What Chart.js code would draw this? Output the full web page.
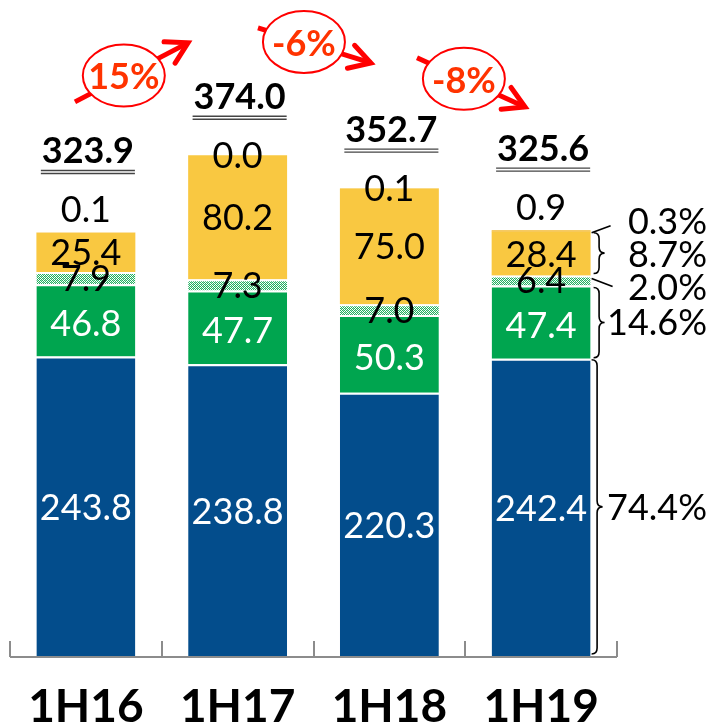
<!DOCTYPE html>
<html><head><meta charset="utf-8">
<script src="https://cdn.jsdelivr.net/npm/chart.js@4/dist/chart.umd.min.js"></script>
<style>html,body{margin:0;padding:0;background:#fff;overflow:hidden}</style>
</head><body>
<canvas id="c" width="713" height="728"></canvas>
<script>
// ---- data ----
const categories = ['1H16', '1H17', '1H18', '1H19'];
const blueVals   = [243.8, 238.8, 220.3, 242.4];
const greenVals  = [46.8, 47.7, 50.3, 47.4];
const checkVals  = [7.9, 7.3, 7.0, 6.4];
const yellowVals = [25.4, 80.2, 75.0, 28.4];
const otherVals  = [0.1, 0.0, 0.1, 0.9];
const totals     = [323.9, 374.0, 352.7, 325.6];
const growthLabels = ['15%', '-6%', '-8%'];
const shareLabels  = ['74.4%', '14.6%', '2.0%', '8.7%', '0.3%'];

// ---- style / layout ----
const FONT = 'Lato, "Open Sans", sans-serif';
const COL_BLUE = '#034D8C', COL_GREEN = '#00A54F', COL_YELLOW = '#F9C841';
const topLabelRaised = [true, false, false, true];
// annotation anchors: [category index offset, y value]
const growthAnchors = [
  {from: [-0.072, 408.6], to: [0.673, 446.8], center: [0.25, 425.6]},
  {from: [1.134, 456.5], to: [1.878, 433.8], center: [1.437, 447.4]},
  {from: [2.182, 437.1], to: [2.894, 405.3], center: [2.491, 423.5]}
];

function makePattern() {
  const pc = document.createElement('canvas');
  pc.width = 4; pc.height = 4;
  const p = pc.getContext('2d');
  p.fillStyle = '#ffffff'; p.fillRect(0, 0, 4, 4);
  p.fillStyle = '#22B060';
  [[0,0],[2,0],[1,1],[3,1],[0,2],[2,2],[1,3],[3,3]].forEach(([x,y]) => p.fillRect(x, y, 1, 1));
  p.fillStyle = 'rgba(0,165,79,0.35)';
  [[1,0],[3,2]].forEach(([x,y]) => p.fillRect(x, y, 1, 1));
  return document.getElementById('c').getContext('2d').createPattern(pc, 'repeat');
}

const sepBorder = {top: 2, bottom: 0, left: 0, right: 0};

function drawBrace(ctx, x, y1, y2, w) {
  const mid = (y1 + y2) / 2, r = Math.min(6, (y2 - y1) / 4), xm = x + w / 2;
  ctx.beginPath();
  ctx.moveTo(x, y1);
  ctx.quadraticCurveTo(xm, y1, xm, y1 + r);
  ctx.lineTo(xm, mid - r);
  ctx.quadraticCurveTo(xm, mid, x + w, mid);
  ctx.quadraticCurveTo(xm, mid, xm, mid + r);
  ctx.lineTo(xm, y2 - r);
  ctx.quadraticCurveTo(xm, y2, x, y2);
  ctx.stroke();
}

function textMid(ctx, txt, x, cy, size) {
  ctx.fillText(txt, x, cy + size * 0.358);
}

const annot = {
  id: 'annot',
  afterDatasetsDraw(chart) {
    const ctx = chart.ctx, ca = chart.chartArea;
    const xs = chart.scales.x, ys = chart.scales.y;
    const step = xs.getPixelForValue(1) - xs.getPixelForValue(0);
    const xAt = i => xs.getPixelForValue(0) + i * step;
    const yAt = v => ys.getPixelForValue(v);
    const metas = [0,1,2,3,4].map(i => chart.getDatasetMeta(i).data);

    ctx.save();
    // x axis line and tick marks
    ctx.strokeStyle = '#8C8C8C'; ctx.lineWidth = 2;
    ctx.beginPath(); ctx.moveTo(ca.left, ca.bottom + 1); ctx.lineTo(ca.right, ca.bottom + 1); ctx.stroke();
    for (let i = 0; i <= categories.length; i++) {
      const x = Math.round(xAt(i - 0.5));
      ctx.beginPath(); ctx.moveTo(x, ca.bottom - 15); ctx.lineTo(x, ca.bottom + 1); ctx.stroke();
    }
    // category labels
    ctx.fillStyle = '#000'; ctx.textAlign = 'center'; ctx.textBaseline = 'alphabetic';
    ctx.font = 'bold 46px ' + FONT;
    categories.forEach((c, i) => ctx.fillText(c, xAt(i), ca.bottom + 66));

    // segment labels
    const SZ = 36;
    ctx.font = SZ + 'px ' + FONT;
    const segColors = ['#fff', '#fff', '#000', '#000'];
    const segData = [blueVals, greenVals, checkVals, yellowVals];
    for (let d = 0; d < 4; d++) {
      metas[d].forEach((el, j) => {
        const top = el.y, bot = Math.min(el.base, ca.bottom);
        let cy = (top + bot) / 2;
        if (d === 0) cy += 1; if (d === 1) cy += 3;
        ctx.fillStyle = segColors[d];
        textMid(ctx, segData[d][j].toFixed(1), el.x, cy, SZ);
      });
    }
    // top (other) labels and totals
    metas[4].forEach((el, j) => {
      const top = el.y;
      const cy = topLabelRaised[j] ? top - 23 : top;
      ctx.fillStyle = '#000';
      ctx.font = SZ + 'px ' + FONT;
      textMid(ctx, otherVals[j].toFixed(1), el.x, cy, SZ);
      // total
      const tcy = cy - 59.5;
      ctx.font = 'bold 36px ' + FONT;
      const txt = totals[j].toFixed(1);
      const base = tcy + 36 * 0.358;
      ctx.fillText(txt, el.x + 2, base);
      const w = ctx.measureText(txt).width;
      ctx.strokeStyle = '#444'; ctx.lineWidth = 1.3;
      [7.5, 10.5].forEach(o => {
        ctx.beginPath(); ctx.moveTo(el.x + 2 - w / 2 - 1, base + o); ctx.lineTo(el.x + 2 + w / 2 + 1, base + o); ctx.stroke();
      });
    });

    // growth arrows + ovals
    growthAnchors.forEach((g, k) => {
      const x1 = xAt(g.from[0]), y1 = yAt(g.from[1]);
      const x2 = xAt(g.to[0]), y2 = yAt(g.to[1]);
      ctx.strokeStyle = '#FF0000'; ctx.lineWidth = 5; ctx.lineCap = 'butt';
      ctx.beginPath(); ctx.moveTo(x1, y1); ctx.lineTo(x2, y2); ctx.stroke();
      const ang = Math.atan2(y2 - y1, x2 - x1), L = 24, sp = Math.PI / 6;
      ctx.lineCap = 'round'; ctx.lineJoin = 'miter';
      ctx.beginPath();
      ctx.moveTo(x2 - L * Math.cos(ang - sp), y2 - L * Math.sin(ang - sp));
      ctx.lineTo(x2, y2);
      ctx.lineTo(x2 - L * Math.cos(ang + sp), y2 - L * Math.sin(ang + sp));
      ctx.stroke();
      const cx = xAt(g.center[0]), cy = yAt(g.center[1]);
      ctx.beginPath(); ctx.ellipse(cx, cy, 41, 31, 0, 0, Math.PI * 2);
      ctx.fillStyle = '#fff'; ctx.fill();
      ctx.lineWidth = 2; ctx.strokeStyle = '#FF0000'; ctx.stroke();
      ctx.fillStyle = '#FF3300'; ctx.font = 'bold 36px ' + FONT; ctx.textAlign = 'center';
      textMid(ctx, growthLabels[k], cx, cy + 1, 36);
    });

    // right-hand braces for last bar
    const j = categories.length - 1;
    const b = metas[0][j], g = metas[1][j], c = metas[2][j], y = metas[3][j];
    const right = b.x + b.width / 2;
    ctx.strokeStyle = '#000'; ctx.lineWidth = 1.6; ctx.lineCap = 'butt';
    drawBrace(ctx, right + 1, b.y + 1, ca.bottom - 2, 11);
    drawBrace(ctx, right + 3, g.y + 2, g.base - 1, 11);
    drawBrace(ctx, right + 3, y.y + 1, y.base - 2, 11);
    ctx.beginPath(); ctx.moveTo(right + 1, y.y + 1); ctx.lineTo(right + 20, y.y - 6); ctx.stroke();
    const cc = (c.y + c.base) / 2;
    ctx.beginPath(); ctx.moveTo(right + 1, cc - 2); ctx.lineTo(right + 22, cc + 6); ctx.stroke();

    ctx.fillStyle = '#000'; ctx.font = SZ + 'px ' + FONT; ctx.textAlign = 'right';
    const xr = chart.width - 6;
    textMid(ctx, shareLabels[0], xr, (b.y + ca.bottom) / 2, SZ);
    textMid(ctx, shareLabels[1], xr, (g.y + g.base) / 2, SZ);
    textMid(ctx, shareLabels[2], xr, cc + 7, SZ);
    textMid(ctx, shareLabels[3], xr, (y.y + y.base) / 2, SZ);
    textMid(ctx, shareLabels[4], xr, y.y - 11, SZ);
    ctx.restore();
  }
};

const pattern = makePattern();
new Chart(document.getElementById('c'), {
  type: 'bar',
  data: {
    labels: categories,
    datasets: [
      {data: blueVals, backgroundColor: COL_BLUE, borderColor: '#fff', borderWidth: sepBorder, borderSkipped: false},
      {data: greenVals, backgroundColor: COL_GREEN, borderColor: '#fff', borderWidth: sepBorder, borderSkipped: false},
      {data: checkVals, backgroundColor: pattern, borderColor: '#fff', borderWidth: sepBorder, borderSkipped: false},
      {data: yellowVals, backgroundColor: COL_YELLOW, borderWidth: 0},
      {data: otherVals, backgroundColor: '#F2B830', borderWidth: 0}
    ]
  },
  options: {
    responsive: false,
    devicePixelRatio: 1,
    animation: false,
    events: [],
    datasets: {bar: {categoryPercentage: 0.652, barPercentage: 1}},
    layout: {padding: {left: 10, right: 96, top: 7, bottom: 72}},
    plugins: {legend: {display: false}, tooltip: {enabled: false}, title: {display: false}},
    scales: {
      x: {display: false, stacked: true, offset: true},
      y: {display: false, stacked: true, min: 50, max: 470}
    }
  },
  plugins: [annot]
});
</script>
</body></html>
